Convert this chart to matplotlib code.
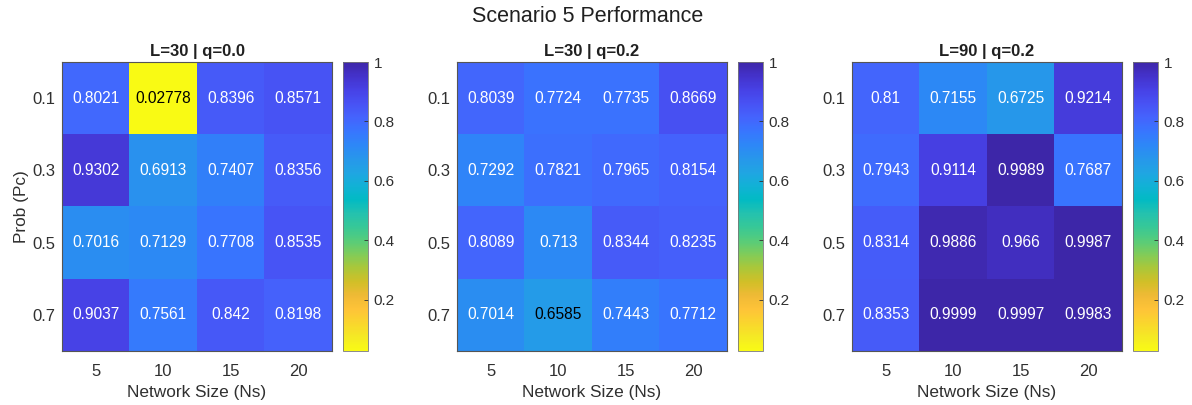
import numpy as np
import matplotlib
matplotlib.use("Agg")
import matplotlib.pyplot as plt
from matplotlib.colors import LinearSegmentedColormap

plt.rcParams['font.family'] = ['Liberation Sans', 'DejaVu Sans']

net_sizes = ['5', '10', '15', '20']
probs = ['0.1', '0.3', '0.5', '0.7']
titles = ['L=30 | q=0.0', 'L=30 | q=0.2', 'L=90 | q=0.2']

perf_l30_q00 = [[0.8021, 0.02778, 0.8396, 0.8571],
                [0.9302, 0.6913, 0.7407, 0.8356],
                [0.7016, 0.7129, 0.7708, 0.8535],
                [0.9037, 0.7561, 0.842, 0.8198]]
perf_l30_q02 = [[0.8039, 0.7724, 0.7735, 0.8669],
                [0.7292, 0.7821, 0.7965, 0.8154],
                [0.8089, 0.713, 0.8344, 0.8235],
                [0.7014, 0.6585, 0.7443, 0.7712]]
perf_l90_q02 = [[0.81, 0.7155, 0.6725, 0.9214],
                [0.7943, 0.9114, 0.9989, 0.7687],
                [0.8314, 0.9886, 0.966, 0.9987],
                [0.8353, 0.9999, 0.9997, 0.9983]]

# old-style parula, reversed below (yellow = low, dark blue = high)
parula = [(0.2422, 0.1504, 0.6603), (0.2647, 0.1978, 0.7952), (0.2783, 0.2559, 0.8991),
          (0.2810, 0.3228, 0.9579), (0.2699, 0.3892, 0.9906), (0.2206, 0.4603, 0.9973),
          (0.1786, 0.5289, 0.9682), (0.1540, 0.5902, 0.9218), (0.1248, 0.6459, 0.8883),
          (0.0689, 0.6948, 0.8394), (0.0067, 0.7312, 0.7660), (0.1408, 0.7584, 0.6842),
          (0.2161, 0.7843, 0.5923), (0.3406, 0.8008, 0.4789), (0.5044, 0.7993, 0.3480),
          (0.6720, 0.7793, 0.2227), (0.8203, 0.7498, 0.1535), (0.9393, 0.7288, 0.2100),
          (0.9970, 0.7659, 0.2199), (0.9786, 0.8386, 0.1766), (0.9597, 0.9135, 0.1423),
          (0.9769, 0.9839, 0.0805)]
cmap = LinearSegmentedColormap.from_list('parula_r', parula[::-1], N=256)

all_data = [perf_l30_q00, perf_l30_q02, perf_l90_q02]
vmin = min(np.min(d) for d in all_data)
vmax = 1.0

fig = plt.figure(figsize=(11.92, 4.05), dpi=100)
W, H = 1192, 405
lefts = [62, 457, 852]
txt = '#303030'

for k, data in enumerate(all_data):
    arr = np.array(data)
    ax = fig.add_axes([lefts[k] / W, (H - 351) / H, 270 / W, 289 / H])
    im = ax.imshow(arr, cmap=cmap, vmin=vmin, vmax=vmax, aspect='auto')
    for i in range(arr.shape[0]):
        for j in range(arr.shape[1]):
            c = 'black' if arr[i, j] < 0.66 else 'white'
            ax.text(j, i, '%.4g' % arr[i, j], ha='center', va='center',
                    color=c, fontsize=11.2)
    ax.set_xticks(range(len(net_sizes)))
    ax.set_xticklabels(net_sizes)
    ax.set_yticks(range(len(probs)))
    ax.set_yticklabels(probs)
    ax.tick_params(axis='y', length=0, labelsize=12, colors=txt, pad=5)
    ax.tick_params(axis='x', length=0, labelsize=12, colors=txt, pad=9)
    for s in ax.spines.values():
        s.set_color('#555555')
        s.set_linewidth(0.8)
    ax.set_title(titles[k], fontsize=12, fontweight='bold', color='#202020', pad=4)
    ax.set_xlabel('Network Size (Ns)', fontsize=12.4, color=txt, labelpad=5)
    if k == 0:
        ax.set_ylabel('Prob (Pc)', fontsize=12.4, color=txt, labelpad=2)

    cax = fig.add_axes([(lefts[k] + 281) / W, (H - 351) / H, 25 / W, 289 / H])
    cb = fig.colorbar(im, cax=cax)
    cb.set_ticks([0.2, 0.4, 0.6, 0.8, 1.0])
    cb.set_ticklabels(['0.2', '0.4', '0.6', '0.8', '1'])
    cb.ax.tick_params(direction='in', length=3, width=0.6, labelsize=11, colors=txt, pad=4)
    cb.outline.set_edgecolor('#777777')
    cb.outline.set_linewidth(0.6)

fig.text(588 / W, 1 - 17 / H, 'Scenario 5 Performance', ha='center', va='center',
         fontsize=15.5, color='#202020')

fig.savefig('out.png', dpi=100)
